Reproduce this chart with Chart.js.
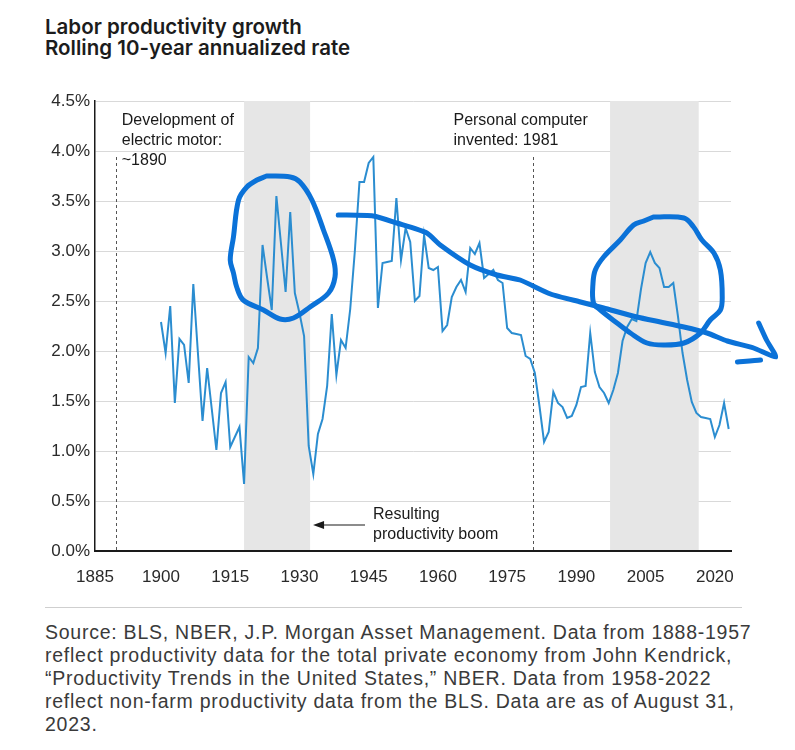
<!DOCTYPE html>
<html>
<head>
<meta charset="utf-8">
<title>Labor productivity growth</title>
<script src="https://cdn.jsdelivr.net/npm/chart.js@4.4.0/dist/chart.umd.min.js"></script>
<style>
  body { margin: 0; background: #fff; width: 795px; height: 750px; position: relative; overflow: hidden;
         font-family: "Liberation Sans", Arial, sans-serif; }
  #title { position: absolute; left: 45px; top: 16px; font-family: Inter, sans-serif; font-weight: 600;
           font-size: 20.5px; line-height: 21px; color: #1c1c1c; }
  #wrap { position: absolute; left: 0; top: 0; width: 795px; height: 600px; }
  #rule { position: absolute; left: 45px; top: 607px; width: 697px; border-top: 1px solid #cfcfcf; }
  #source { position: absolute; left: 45px; top: 621px; font-size: 19.5px; line-height: 23px; color: #3a3a3a;
            letter-spacing: 0.75px; white-space: nowrap; }
</style>
</head>
<body>
<div id="title">Labor productivity growth<br>Rolling 10-year annualized rate</div>
<div id="wrap"><canvas id="chart"></canvas></div>
<div id="rule"></div>
<div id="source">
  Source: BLS, NBER, J.P. Morgan Asset Management. Data from 1888-1957<br>
  reflect productivity data for the total private economy from John Kendrick,<br>
  “Productivity Trends in the United States,” NBER. Data from 1958-2022<br>
  reflect non-farm productivity data from the BLS. Data are as of August 31,<br>
  2023.
</div>
<script>
// rolling 10-year annualized labor productivity growth, %
const years = [
  1900, 1901, 1902, 1903, 1904, 1905, 1906, 1907, 1908, 1909,
  1910, 1911, 1912, 1913, 1914, 1915, 1916, 1917, 1918, 1919,
  1920, 1921, 1922, 1923, 1924, 1925, 1926, 1927, 1928, 1929,
  1930, 1931, 1932, 1933, 1934, 1935, 1936, 1937, 1938, 1939,
  1940, 1941, 1942, 1943, 1944, 1945, 1946, 1947, 1948, 1949,
  1950, 1951, 1952, 1953, 1954, 1955, 1956, 1957, 1958, 1959,
  1960, 1961, 1962, 1963, 1964, 1965, 1966, 1967, 1968, 1969,
  1970, 1971, 1972, 1973, 1974, 1975, 1976, 1977, 1978, 1979,
  1980, 1981, 1982, 1983, 1984, 1985, 1986, 1987, 1988, 1989,
  1990, 1991, 1992, 1993, 1994, 1995, 1996, 1997, 1998, 1999,
  2000, 2001, 2002, 2003, 2004, 2005, 2006, 2007, 2008, 2009,
  2010, 2011, 2012, 2013, 2014, 2015, 2016, 2017, 2018, 2019,
  2020, 2021, 2022, 2023
];
const growth = [
  2.29, 1.98, 2.45, 1.48, 2.12, 2.06, 1.68, 2.67, 1.98, 1.30,
  1.83, 1.42, 1.01, 1.58, 1.69, 1.04, 1.14, 1.24, 0.67, 1.94,
  1.88, 2.03, 3.06, 2.73, 2.41, 3.55, 3.07, 2.59, 3.39, 2.58,
  2.38, 2.15, 1.05, 0.77, 1.17, 1.32, 1.65, 2.37, 1.76, 2.11,
  2.03, 2.42, 3.00, 3.69, 3.69, 3.88, 3.94, 2.43, 2.88, 2.89,
  2.90, 3.53, 2.91, 3.23, 3.09, 2.50, 2.55, 3.16, 2.83, 2.81,
  2.84, 2.20, 2.26, 2.54, 2.64, 2.71, 2.59, 3.03, 2.97, 3.08,
  2.73, 2.77, 2.81, 2.71, 2.68, 2.23, 2.18, 2.17, 2.16, 1.95,
  1.92, 1.78, 1.45, 1.09, 1.19, 1.59, 1.48, 1.44, 1.33, 1.35,
  1.46, 1.64, 1.65, 2.18, 1.79, 1.64, 1.58, 1.48, 1.61, 1.78,
  2.10, 2.24, 2.32, 2.30, 2.62, 2.88, 2.99, 2.88, 2.83, 2.64,
  2.64, 2.68, 2.35, 1.98, 1.71, 1.49, 1.38, 1.34, 1.33, 1.32,
  1.14, 1.26, 1.48, 1.22
];

const xTickYears = [1885, 1900, 1915, 1930, 1945, 1960, 1975, 1990, 2005, 2020];
const yTickValues = [0, 0.5, 1, 1.5, 2, 2.5, 3, 3.5, 4, 4.5];

// shaded "productivity boom" periods [start, end]
const boomBands = [[1918, 1932.3], [1997.3, 2016.5]];
// dashed event markers: [year, top value]
const eventYears = [[1890.2, 3.94], [1980.7, 3.94]];

// hand-drawn marker strokes, [year, value]
const circleEarly = [
  [1922.9, 3.75], [1928.0, 3.74], [1930.1, 3.69], [1932.7, 3.51], [1935.2, 3.21],
  [1937.4, 2.91], [1937.7, 2.74], [1936.3, 2.58], [1932.3, 2.44], [1928.7, 2.33],
  [1925.8, 2.32], [1922.2, 2.41], [1917.8, 2.51], [1916.4, 2.64], [1915.7, 2.78],
  [1915.0, 2.91], [1915.7, 3.14], [1916.8, 3.51], [1918.6, 3.64], [1920.8, 3.71],
  [1922.9, 3.75]
];
const circleLate = [
  [2006.7, 3.34], [2013.3, 3.33], [2015.4, 3.24], [2017.2, 3.11], [2019.8, 2.98],
  [2021.2, 2.81], [2021.6, 2.54], [2021.2, 2.41], [2019.0, 2.31], [2016.9, 2.18],
  [2013.3, 2.08], [2008.9, 2.06], [2005.3, 2.08], [2001.7, 2.18], [1998.8, 2.28],
  [1995.2, 2.41], [1993.7, 2.48], [1993.6, 2.68], [1994.1, 2.81], [1995.9, 2.94],
  [1999.5, 3.11], [2002.4, 3.26], [2004.6, 3.30], [2006.7, 3.34]
];
const trendArrow = [
  [1938.4, 3.36], [1946.0, 3.35], [1951.1, 3.28], [1957.6, 3.18], [1960.5, 3.06],
  [1967.0, 2.86], [1972.8, 2.76], [1977.8, 2.71], [1984.4, 2.57], [1990.9, 2.49],
  [1995.9, 2.43], [2003.1, 2.34], [2008.2, 2.29], [2013.3, 2.24], [2018.3, 2.18],
  [2022.7, 2.10], [2028.4, 2.03], [2033.2, 1.94], [2031.2, 2.11], [2029.5, 2.28]
];
const arrowBarb = [[2024.9, 1.89], [2029.9, 1.91], [2033.2, 1.94]];

const inkBlue = '#0b72d8';
const lineBlue = '#2b8dd0';
const tickFont = { family: '"Liberation Sans", Arial, sans-serif', size: 17 };

function pairs(list) {
  return list.map(p => ({ x: p[0], y: p[1] }));
}

function inkSet(list, tension) {
  return {
    data: pairs(list),
    showLine: true,
    borderColor: inkBlue,
    borderWidth: 5,
    borderCapStyle: 'round',
    borderJoinStyle: 'round',
    tension: tension,
    pointRadius: 0,
    clip: false,
    order: 1
  };
}

const decor = {
  id: 'decor',
  beforeDatasetsDraw(chart) {
    const { ctx, chartArea: a, scales: { x, y } } = chart;
    ctx.save();
    ctx.fillStyle = '#e6e6e6';
    boomBands.forEach(([s, e]) => {
      const x0 = x.getPixelForValue(s);
      const x1 = x.getPixelForValue(e);
      ctx.fillRect(x0, a.top, x1 - x0, a.bottom - a.top - 1);
    });

    ctx.strokeStyle = '#555';
    ctx.lineWidth = 1;
    ctx.setLineDash([3, 3]);
    eventYears.forEach(([yr, top]) => {
      const px = Math.round(x.getPixelForValue(yr)) + 0.5;
      ctx.beginPath();
      ctx.moveTo(px, y.getPixelForValue(top));
      ctx.lineTo(px, a.bottom);
      ctx.stroke();
    });
    ctx.setLineDash([]);

    ctx.fillStyle = '#1a1a1a';
    ctx.font = '16px "Liberation Sans", Arial, sans-serif';
    ctx.textBaseline = 'middle';
    const motorX = x.getPixelForValue(eventYears[0][0]) + 6;
    ctx.fillText('Development of', motorX, 121);
    ctx.fillText('electric motor:', motorX, 141);
    ctx.fillText('~1890', motorX, 161);

    const pcX = x.getPixelForValue(eventYears[1][0]) - 80;
    ctx.fillText('Personal computer', pcX, 121);
    ctx.fillText('invented: 1981', pcX, 141);

    ctx.fillText('Resulting', 373, 515);
    ctx.fillText('productivity boom', 373, 535);

    // arrow pointing back to the shaded boom
    const arrowTip = x.getPixelForValue(boomBands[0][1]) + 3;
    ctx.strokeStyle = '#1a1a1a';
    ctx.lineWidth = 1.2;
    ctx.beginPath();
    ctx.moveTo(arrowTip + 8, 525);
    ctx.lineTo(365, 525);
    ctx.stroke();
    ctx.beginPath();
    ctx.moveTo(arrowTip, 525);
    ctx.lineTo(arrowTip + 11, 521);
    ctx.lineTo(arrowTip + 11, 529);
    ctx.closePath();
    ctx.fill();
    ctx.restore();
  }
};

new Chart(document.getElementById('chart'), {
  type: 'scatter',
  data: {
    datasets: [
      inkSet(circleEarly, 0.35),
      inkSet(circleLate, 0.35),
      inkSet(trendArrow, 0.2),
      inkSet(arrowBarb, 0.2),
      {
        data: years.map((yr, i) => ({ x: yr, y: growth[i] })),
        showLine: true,
        borderColor: lineBlue,
        borderWidth: 2,
        tension: 0,
        pointRadius: 0,
        order: 2
      }
    ]
  },
  options: {
    responsive: true,
    maintainAspectRatio: false,
    animation: false,
    events: [],
    layout: { padding: { left: 0, right: 64, top: 101, bottom: 0 } },
    plugins: { legend: { display: false }, tooltip: { enabled: false } },
    scales: {
      x: {
        type: 'linear',
        min: 1885.7,
        max: 2023.5,
        // the first label sits on the axis edge, as in the source chart
        afterBuildTicks: s => { s.ticks = xTickYears.map(v => ({ value: Math.max(v, s.min) })); },
        afterFit: s => { s.height = 49; },
        grid: { display: false, drawTicks: false },
        border: { display: true, color: '#1a1a1a', width: 2 },
        ticks: { font: tickFont, color: '#2a2a2a', padding: 16, maxRotation: 0, autoSkip: false,
                 callback: (v, i) => String(xTickYears[i]) }
      },
      y: {
        min: 0,
        max: 4.5,
        afterBuildTicks: s => { s.ticks = yTickValues.map(v => ({ value: v })); },
        afterFit: s => { s.width = 95; },
        grid: { color: '#d9d9d9', lineWidth: 1, drawTicks: false },
        border: { display: true, color: '#1a1a1a', width: 1.5 },
        ticks: { font: tickFont, color: '#2a2a2a', padding: 5, callback: v => v.toFixed(1) + '%' }
      }
    }
  },
  plugins: [decor]
});
</script>
</body>
</html>
